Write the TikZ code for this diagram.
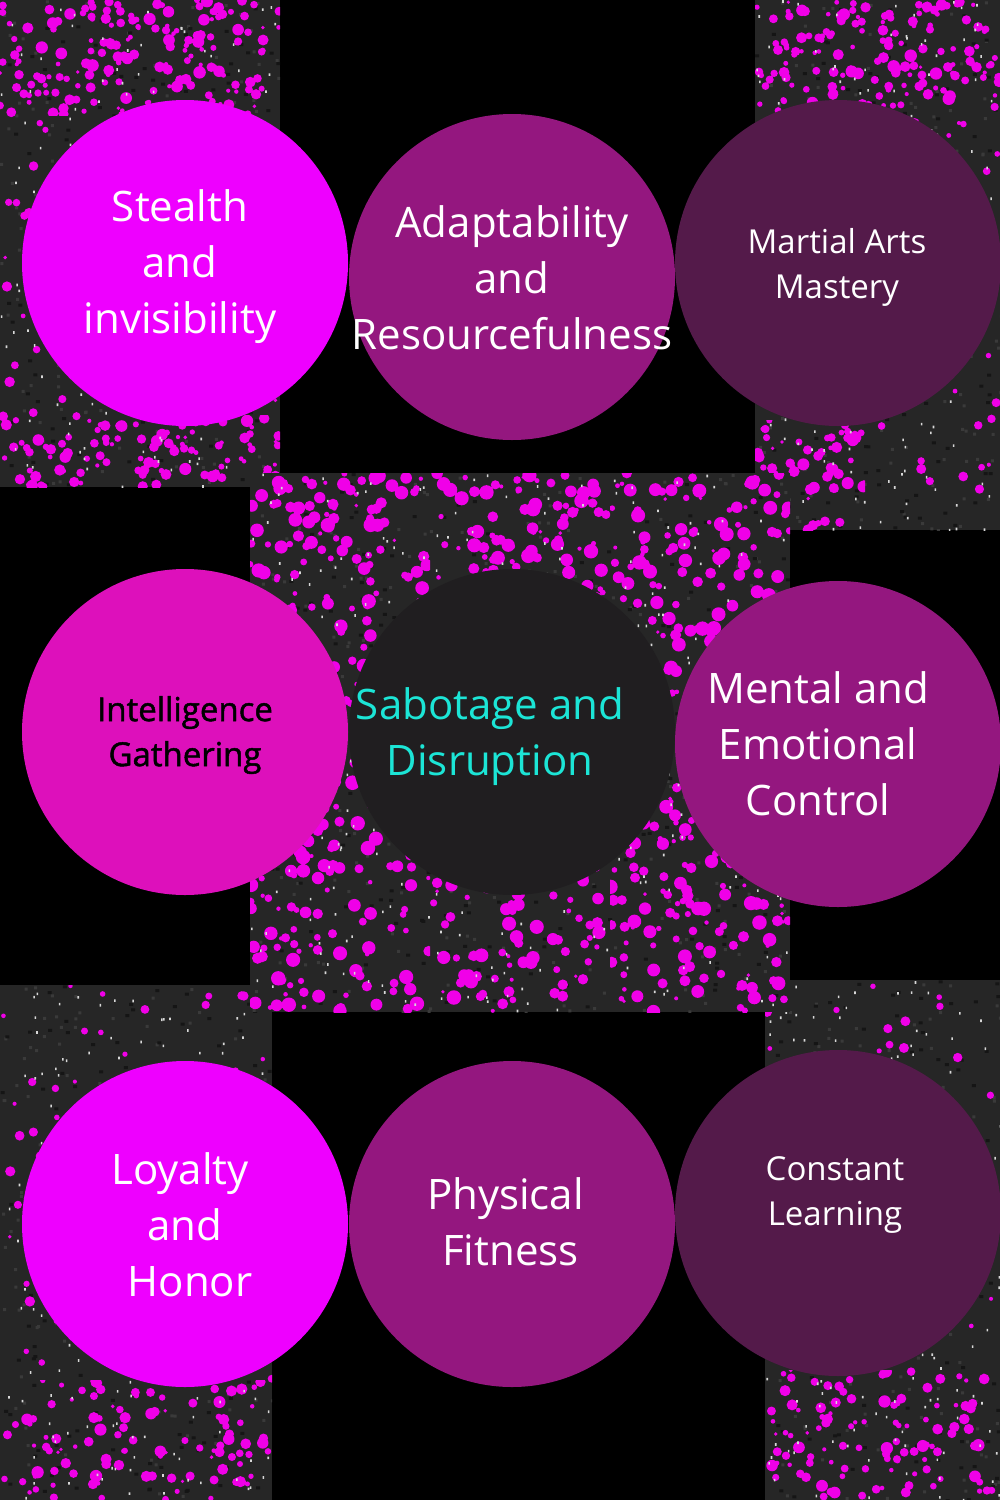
\documentclass[tikz,border=0pt]{standalone}
\usepackage{fontspec}
\setmainfont{Open Sans}
\newfontfamily\medfont[FakeBold=1.4]{Open Sans}
\definecolor{cMagenta}{HTML}{EE00FF}
\definecolor{cPlum}{HTML}{94177F}
\definecolor{cWine}{HTML}{541A4A}
\definecolor{cFuchsia}{HTML}{DD10BB}
\definecolor{cCoal}{HTML}{201E20}
\definecolor{cTeal}{HTML}{1CE5D6}
\definecolor{patchgray}{HTML}{262626}
\definecolor{graingray}{HTML}{3A3A3A}
\definecolor{darkgrain}{HTML}{151515}
\definecolor{dotmag}{HTML}{F000E8}
\definecolor{speck}{HTML}{D8D8D8}
% base: #1 x0, #2 y0, #3 w, #4 h, #5 grains
\newcommand\patchbase[5]{%
  \fill[patchgray] (#1,#2) rectangle ++(#3,#4);
  \begin{scope}
    \clip (#1,#2) rectangle ++(#3,#4);
    \fill[graingray] \foreach \k in {1,...,#5}{ ({#1+rnd*#3},{#2+rnd*#4}) rectangle ++(3,3) };
    \fill[darkgrain] \foreach \k in {1,...,#5}{ ({#1+rnd*#3},{#2+rnd*#4}) rectangle ++(4,3) };
  \end{scope}}
% magenta dots: #1 x0, #2 y0, #3 w, #4 h, #5 count (<=200), #6 extra radius
\newcommand\patchdots[6]{%
  \begin{scope}
    \clip (#1,#2) rectangle ++(#3,#4);
    \fill[dotmag] \foreach \k in {1,...,#5}{ ({#1+rnd*#3},{#2+rnd*#4}) circle ({1.8+rnd*#6}) };
  \end{scope}}
% white specks: #1 x0, #2 y0, #3 w, #4 h, #5 count
\newcommand\patchspecks[5]{%
  \begin{scope}
    \clip (#1,#2) rectangle ++(#3,#4);
    \fill[speck] \foreach \k in {1,...,#5}{ ({#1+rnd*#3},{#2+rnd*#4}) rectangle ++(1.6,2.6) };
  \end{scope}}
\begin{document}
\begin{tikzpicture}[x=1pt,y=-1pt,
  disc/.style={circle, minimum size=326pt, inner sep=0pt, draw=none},
  bigtext/.style={font=\fontsize{42}{56}\selectfont, align=center, text=white, inner sep=0pt},
  smalltext/.style={font=\fontsize{33}{45}\selectfont, align=center, text=white, inner sep=0pt}]
\useasboundingbox (0,0) rectangle (1000,1500);
\fill[black] (0,0) rectangle (1000,1500);
\pgfmathsetseed{4242}
% top-left patch
\patchbase{0}{0}{280}{487}{150}
\patchdots{0}{0}{280}{487}{120}{3.5}
\patchdots{0}{0}{280}{115}{150}{4.5}
\patchdots{0}{415}{280}{72}{90}{4.5}
\patchspecks{0}{0}{280}{487}{160}
% top-right patch
\patchbase{755}{0}{245}{530}{150}
\patchdots{755}{0}{245}{530}{80}{3.5}
\patchdots{755}{0}{245}{110}{140}{4.5}
\patchdots{755}{420}{110}{110}{60}{4.5}
\patchspecks{755}{0}{245}{530}{160}
% bottom-left patch
\patchbase{0}{985}{272}{515}{150}
\patchdots{0}{985}{272}{515}{110}{3.5}
\patchdots{0}{1380}{272}{120}{90}{4.5}
\patchspecks{0}{985}{272}{515}{170}
% bottom-right patch
\patchbase{765}{980}{235}{520}{150}
\patchdots{765}{980}{235}{520}{90}{3.5}
\patchdots{765}{1370}{235}{130}{80}{4.5}
\patchspecks{765}{980}{235}{520}{160}
% centre patch
\patchbase{250}{473}{540}{539}{300}
\patchdots{250}{473}{180}{270}{170}{5.5}
\patchdots{430}{473}{180}{270}{170}{5.5}
\patchdots{610}{473}{180}{270}{170}{5.5}
\patchdots{250}{743}{180}{269}{170}{5.5}
\patchdots{430}{743}{180}{269}{170}{5.5}
\patchdots{610}{743}{180}{269}{170}{5.5}
\patchspecks{250}{473}{540}{539}{320}
% circles
\node[disc, fill=cMagenta] (stealth) at (185,263) {};
\node[disc, fill=cPlum] (adapt) at (512,277) {};
\node[disc, fill=cWine] (martial) at (838,263) {};
\node[disc, fill=cFuchsia] (intel) at (185,732) {};
\node[disc, fill=cCoal] (sabotage) at (512,732) {};
\node[disc, fill=cPlum] (mental) at (838,744) {};
\node[disc, fill=cMagenta] (loyalty) at (185,1224) {};
\node[disc, fill=cPlum] (fitness) at (512,1224) {};
\node[disc, fill=cWine] (learning) at (838,1213) {};
% labels
\node[bigtext] (tstealth) at (180,267) {Stealth\\and\\invisibility};
\node[bigtext] (tadapt) at (512,278) {Adaptability\\and\hspace*{10pt}\\Resourcefulness};
\node[smalltext] (tmartial) at (837,267) {Martial Arts\\Mastery};
\node[smalltext, text=black, font=\medfont\fontsize{33}{45}\selectfont] (tintel) at (185,735) {Intelligence\\Gathering};
\node[bigtext, text=cTeal] (tsabotage) at (490,737) {Sabotage and\\Disruption};
\node[bigtext] (tmental) at (818,744) {Mental and\\Emotional\\Control};
\node[bigtext] (tloyalty) at (185,1225) {Loyalty\hspace*{10pt}\\and\\\hspace*{10pt}Honor};
\node[bigtext] (tfitness) at (508,1222) {Physical\hspace*{5pt}\\\hspace*{5pt}Fitness};
\node[smalltext] (tlearning) at (835,1195) {Constant\\Learning};
\end{tikzpicture}
\end{document}
